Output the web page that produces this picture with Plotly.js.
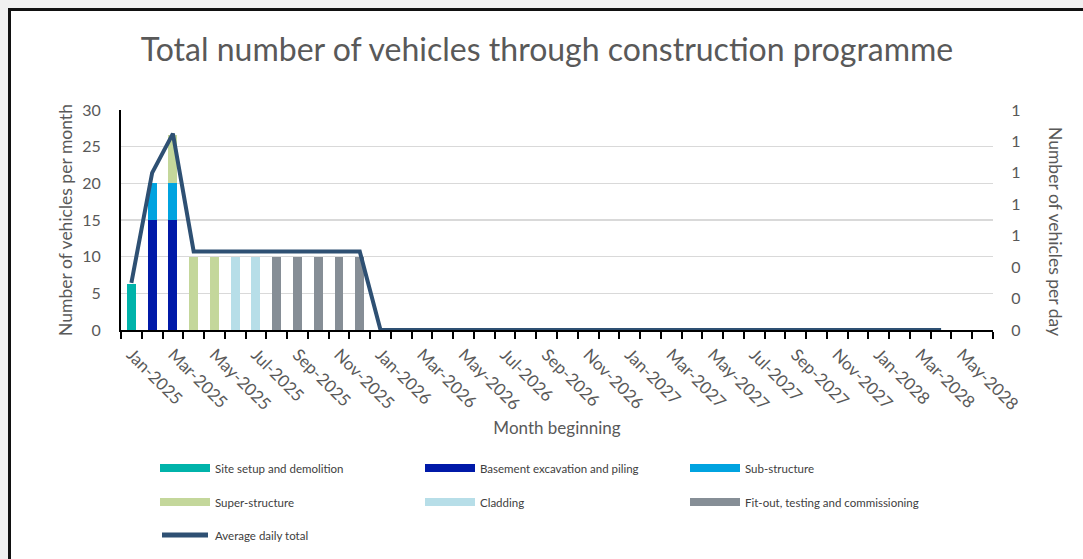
<!DOCTYPE html>
<html>
<head>
<meta charset="utf-8">
<script src="https://cdn.plot.ly/plotly-3.0.1.min.js"></script>
<style>
  html, body { margin: 0; padding: 0; background: #F0F0F0; width: 1083px; height: 559px; overflow: hidden; }
  #frame { position: absolute; left: 8px; top: 8px; width: 1075px; height: 551px; background: #fff;
           border-top: 3px solid #111; border-left: 3px solid #111; box-sizing: border-box; }
  #chart { position: absolute; left: 0; top: 0; width: 1072px; height: 548px; }
</style>
</head>
<body>
<div id="frame"><div id="chart"></div></div>
<script>
// ---- Data ----
const months = ["Jan-2025","Feb-2025","Mar-2025","Apr-2025","May-2025","Jun-2025","Jul-2025","Aug-2025","Sep-2025","Oct-2025","Nov-2025","Dec-2025",
  "Jan-2026","Feb-2026","Mar-2026","Apr-2026","May-2026","Jun-2026","Jul-2026","Aug-2026","Sep-2026","Oct-2026","Nov-2026","Dec-2026",
  "Jan-2027","Feb-2027","Mar-2027","Apr-2027","May-2027","Jun-2027","Jul-2027","Aug-2027","Sep-2027","Oct-2027","Nov-2027","Dec-2027",
  "Jan-2028","Feb-2028","Mar-2028","Apr-2028","May-2028","Jun-2028"];

// monthly vehicles per phase, Jan-2025 .. Dec-2025
const siteSetup   = [6.3, 0, 0, 0, 0, 0, 0, 0, 0, 0, 0, 0];
const basement    = [0, 15, 15, 0, 0, 0, 0, 0, 0, 0, 0, 0];
const subStruct   = [0, 5, 5, 0, 0, 0, 0, 0, 0, 0, 0, 0];
const superStruct = [0, 0, 6.6, 10, 10, 0, 0, 0, 0, 0, 0, 0];
const cladding    = [0, 0, 0, 0, 0, 10, 10, 0, 0, 0, 0, 0];
const fitOut      = [0, 0, 0, 0, 0, 0, 0, 10, 10, 10, 10, 10];

// average daily total, Jan-2025 .. Apr-2028
const dailyTotal = [0.3, 1.0, 1.25, 0.5, 0.5, 0.5, 0.5, 0.5, 0.5, 0.5, 0.5, 0.5,
  0, 0, 0, 0, 0, 0, 0, 0, 0, 0, 0, 0,
  0, 0, 0, 0, 0, 0, 0, 0, 0, 0, 0, 0,
  0, 0, 0, 0];

const seriesNames  = ["Site setup and demolition","Basement excavation and piling","Sub-structure",
                      "Super-structure","Cladding","Fit-out, testing and commissioning"];
const seriesValues = [siteSetup, basement, subStruct, superStruct, cladding, fitOut];
const seriesColors = ["#00B3AA","#0019A8","#00A3E0","#C4D79B","#B7DEE8","#868E96"];
const lineName = "Average daily total";
const lineColor = "#2E5073";

// ---- Build ----
const idx = months.map((m, i) => i);
const traces = seriesValues.map((vals, k) => ({
  type: "bar", name: seriesNames[k], x: idx.slice(0, vals.length), y: vals,
  marker: { color: seriesColors[k] }, showlegend: false, hoverinfo: "skip"
}));
traces.push({
  type: "scatter", mode: "lines", name: lineName, x: idx.slice(0, dailyTotal.length), y: dailyTotal,
  yaxis: "y2", line: { color: lineColor, width: 4 }, showlegend: false, hoverinfo: "skip"
});

const W = 1072, H = 548, L = 110, T = 99, PW = 872, PH = 220;
const OFF = 11; // frame offset on page
const pxX = p => (p - OFF - L) / PW;
const pxY = p => 1 - (p - OFF - T) / PH;

const FONT = "Lato, 'Open Sans', sans-serif";
const TXT = "#595959";

// custom legend (3 columns x 3 rows)
const legItems = seriesNames.map((n, k) => ({ name: n, color: seriesColors[k], kind: "bar" }));
legItems.push({ name: lineName, color: lineColor, kind: "line" });
const colX = [160, 425, 690], rowY = [468, 502, 535];
const shapes = [], annotations = [];
legItems.forEach((it, i) => {
  const cx = colX[i % 3], cy = rowY[Math.floor(i / 3)];
  if (it.kind === "bar") {
    shapes.push({ type: "rect", xref: "paper", yref: "paper", x0: pxX(cx), x1: pxX(cx + 50),
      y0: pxY(cy - 4), y1: pxY(cy + 4), fillcolor: it.color, line: { width: 0 } });
  } else {
    shapes.push({ type: "line", xref: "paper", yref: "paper", x0: pxX(cx + 2), x1: pxX(cx + 48),
      y0: pxY(cy), y1: pxY(cy), line: { color: it.color, width: 5 } });
  }
  annotations.push({ xref: "paper", yref: "paper", x: pxX(cx + 53), y: pxY(cy), xanchor: "left", yanchor: "middle",
    text: it.name, showarrow: false, font: { family: FONT, size: 11.5, color: "#404040" } });
});
annotations.push({ xref: "paper", yref: "paper", x: pxX(1056), y: pxY(231), textangle: 90,
  text: "Number of vehicles per day", showarrow: false, xanchor: "center", yanchor: "middle",
  font: { family: FONT, size: 17.5, color: TXT } });

const tickIdx = idx.filter(i => i % 2 === 0);
const layout = {
  width: W, height: H,
  margin: { l: L, r: W - L - PW, t: T, b: H - T - PH },
  paper_bgcolor: "rgba(0,0,0,0)", plot_bgcolor: "#fff",
  barmode: "stack", bargap: 0.57,
  font: { family: FONT, color: TXT },
  title: { text: "Total number of vehicles through construction programme", x: 0.5, xref: "container",
    y: 1 - (50 - OFF) / H, yref: "container", yanchor: "middle", xanchor: "center",
    font: { family: FONT, size: 32, color: TXT } },
  xaxis: {
    type: "linear", range: [-0.5, months.length - 0.5], tickmode: "array",
    tickvals: tickIdx, ticktext: tickIdx.map(i => months[i]), tickangle: 45,
    ticks: "outside", ticklen: 6, tickcolor: "rgba(0,0,0,0)",
    minor: { tick0: -0.5, dtick: 1, ticks: "outside", ticklen: 7, tickwidth: 2, tickcolor: "#000" },
    showline: true, linecolor: "#000", linewidth: 2, showgrid: false, zeroline: false,
    tickfont: { family: FONT, size: 17, color: TXT },
    title: { text: "Month beginning", standoff: 9, font: { family: FONT, size: 17, color: TXT } },
    automargin: false, fixedrange: true
  },
  yaxis: {
    range: [0, 30], dtick: 5, tick0: 0, showgrid: true, gridcolor: "#D9D9D9", gridwidth: 1.5,
    showline: true, linecolor: "#000", linewidth: 2, zeroline: false,
    ticks: "outside", ticklen: 15, tickcolor: "rgba(0,0,0,0)",
    tickfont: { family: FONT, size: 16, color: TXT },
    title: { text: "Number of vehicles per month", standoff: 5, font: { family: FONT, size: 17.5, color: TXT } },
    automargin: false, fixedrange: true
  },
  yaxis2: {
    overlaying: "y", side: "right", range: [0, 1.4], dtick: 0.2, tick0: 0, tickformat: ".0f",
    showgrid: false, showline: false, zeroline: false,
    ticks: "outside", ticklen: 14, tickcolor: "rgba(0,0,0,0)",
    tickfont: { family: FONT, size: 16, color: TXT }, automargin: false, fixedrange: true
  },
  showlegend: false,
  shapes: shapes, annotations: annotations
};

Plotly.newPlot("chart", traces, layout, { displayModeBar: false, staticPlot: true });
</script>
</body>
</html>
